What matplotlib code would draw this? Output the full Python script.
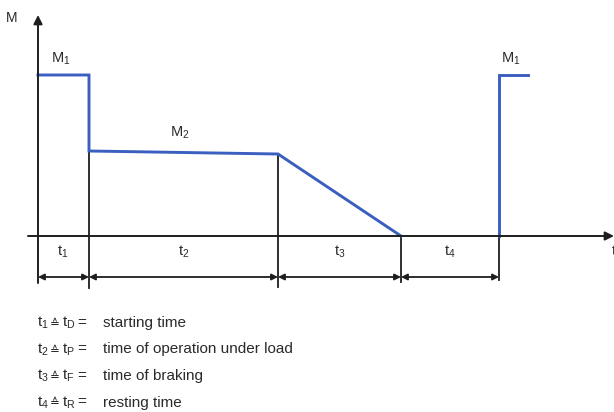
import numpy as np
import matplotlib
matplotlib.use("Agg")
import matplotlib.pyplot as plt

plt.rcParams['font.family'] = ['Liberation Sans', 'DejaVu Sans']

# ---- data (time in arbitrary units, torque in arbitrary units) ----
durations = [51, 189, 123, 98]          # t1, t2, t3, t4
restart_len = 29                        # next start after resting
M1 = 161                                # starting torque
M2_start, M2_end = 85, 82               # load torque (slightly falling)
period_labels = ["t_1", "t_2", "t_3", "t_4"]
legend_sym = ["t_D", "t_P", "t_F", "t_R"]
legend_desc = ["starting time", "time of operation under load",
               "time of braking", "resting time"]

BLUE = '#3a5fc0'
BLACK = '#1e1e1e'
TXT = '#2a2a2a'

b = np.cumsum([0] + durations)          # boundaries

fig = plt.figure(figsize=(6.14, 4.12), dpi=100)
ax = fig.add_axes([0, 0, 1, 1])
ax.set_xlim(-38, 576)
ax.set_ylim(-176, 236)
ax.axis('off')

# black guide verticals
ax.plot([b[1], b[1]], [M2_start, -52], color=BLACK, lw=1.3, zorder=2)
ax.plot([b[2], b[2]], [M2_end, -51], color=BLACK, lw=1.3, zorder=2)
ax.plot([b[3], b[3]], [0, -46], color=BLACK, lw=1.3, zorder=2)
ax.plot([b[4], b[4]], [0, -44], color=BLACK, lw=1.3, zorder=2)

# torque profile (blue)
ax.plot([0, b[1], b[1], b[2], b[3]], [M1, M1, M2_start, M2_end, 0],
        color=BLUE, lw=2.1, zorder=3, solid_joinstyle='miter')
ax.plot([b[4], b[4], b[4] + restart_len], [0, M1, M1],
        color=BLUE, lw=2.1, zorder=3, solid_joinstyle='miter')

# axes with arrows
ax.annotate('', xy=(0, 221), xytext=(0, -47),
            arrowprops=dict(arrowstyle='-|>', color=BLACK, lw=1.4,
                            mutation_scale=13, shrinkA=0, shrinkB=0), zorder=4)
ax.annotate('', xy=(576, 0), xytext=(-10, 0),
            arrowprops=dict(arrowstyle='-|>', color=BLACK, lw=1.4,
                            mutation_scale=13, shrinkA=0, shrinkB=0), zorder=4)

# duration arrows
for i in range(4):
    ax.annotate('', xy=(b[i + 1], -41), xytext=(b[i], -41),
                arrowprops=dict(arrowstyle='<|-|>', color=BLACK, lw=1.3,
                                mutation_scale=9, shrinkA=0, shrinkB=0), zorder=4)
    ax.text((b[i] + b[i + 1]) / 2 + (0 if i else -1), -16,
            r'$\mathregular{%s}$' % period_labels[i],
            ha='center', va='center', fontsize=10.5, color=TXT)

# labels
ax.text(-26, 218, 'M', ha='center', va='center', fontsize=10, color=TXT)
ax.text(574, -15, 't', ha='left', va='center', fontsize=10.5, color=TXT)
ax.text(23, 177, r'$\mathregular{M_1}$', ha='center', va='center',
        fontsize=10.5, color=TXT)
ax.text(142, 103, r'$\mathregular{M_2}$', ha='center', va='center',
        fontsize=10.5, color=TXT)
ax.text(473, 177, r'$\mathregular{M_1}$', ha='center', va='center',
        fontsize=10.5, color=TXT)

# legend lines
ys = [-91, -117.5, -144, -170.5]
for i in range(4):
    y = ys[i]
    ax.text(-1, y, r'$\mathregular{%s}$' % period_labels[i], ha='left',
            va='baseline', fontsize=11, color=TXT)
    ax.text(17, y, '\u2259', ha='center', va='baseline', fontsize=8.5,
            color=TXT, family=['DejaVu Sans'])
    ax.text(24, y, r'$\mathregular{%s}$' % legend_sym[i], ha='left',
            va='baseline', fontsize=11, color=TXT)
    ax.text(39, y, '=', ha='left', va='baseline', fontsize=11, color=TXT)
    ax.text(65, y, legend_desc[i], ha='left', va='baseline', fontsize=11,
            color=TXT)

fig.savefig('out.png', dpi=100, facecolor='white')
